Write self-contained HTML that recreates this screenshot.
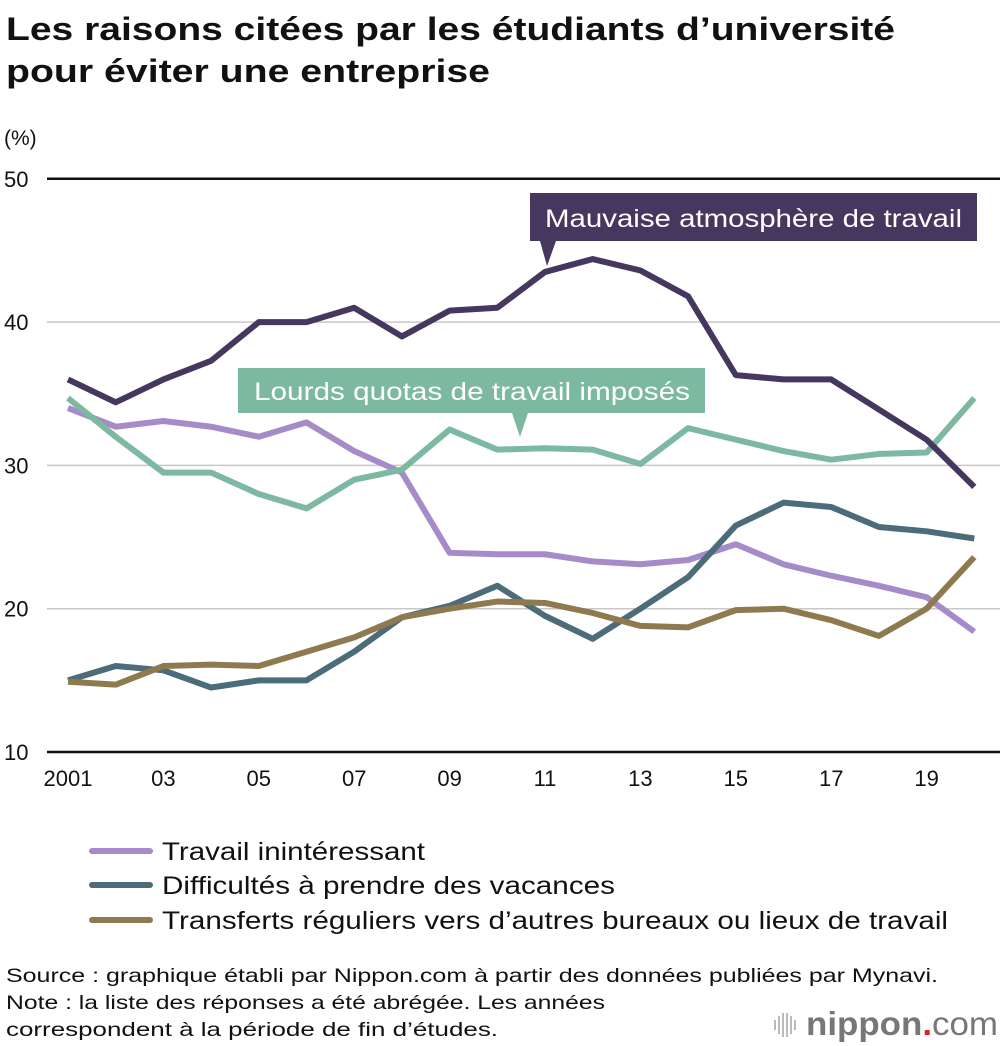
<!DOCTYPE html>
<html><head><meta charset="utf-8"><style>
body{margin:0;background:#fff;font-family:"Liberation Sans",sans-serif;}
svg{display:block}
</style></head><body>
<svg id="c" width="1000" height="1046" viewBox="0 0 1000 1046">
<text x="6" y="40" font-size="32" font-weight="bold" fill="#111" textLength="889" lengthAdjust="spacingAndGlyphs">Les raisons citées par les étudiants d’université</text>
<text x="6" y="82" font-size="32" font-weight="bold" fill="#111" textLength="484" lengthAdjust="spacingAndGlyphs">pour éviter une entreprise</text>
<text x="4" y="145" font-size="21" fill="#111">(%)</text>
<g id="grid"></g><g id="lines"></g>
<g>
<rect x="530" y="193" width="447" height="48" fill="#46375e"/><polygon points="540,241 556,241 547,266" fill="#46375e"/>
<text x="545" y="227" font-size="25" fill="#fff" textLength="417" lengthAdjust="spacingAndGlyphs">Mauvaise atmosphère de travail</text></g>
<g>
<rect x="238" y="368" width="467" height="45" fill="#7db8a0"/><polygon points="512,413 528,413 520,437" fill="#7db8a0"/>
<text x="254" y="400" font-size="25" fill="#fff" textLength="436" lengthAdjust="spacingAndGlyphs">Lourds quotas de travail imposés</text></g>
<g font-size="25" fill="#111">
<line x1="92" y1="851" x2="150" y2="851" stroke="#a58bc8" stroke-width="6" stroke-linecap="round"/>
<text x="162" y="860" textLength="263" lengthAdjust="spacingAndGlyphs">Travail inintéressant</text>
<line x1="92" y1="885" x2="150" y2="885" stroke="#4d6c7a" stroke-width="6" stroke-linecap="round"/>
<text x="162" y="894" textLength="453" lengthAdjust="spacingAndGlyphs">Difficultés à prendre des vacances</text>
<line x1="92" y1="920" x2="150" y2="920" stroke="#8e7a4e" stroke-width="6" stroke-linecap="round"/>
<text x="162" y="929" textLength="786" lengthAdjust="spacingAndGlyphs">Transferts réguliers vers d’autres bureaux ou lieux de travail</text>
</g>
<g font-size="19.5" fill="#111">
<text x="6" y="982" textLength="932" lengthAdjust="spacingAndGlyphs">Source : graphique établi par Nippon.com à partir des données publiées par Mynavi.</text>
<text x="6" y="1009" textLength="599" lengthAdjust="spacingAndGlyphs">Note : la liste des réponses a été abrégée. Les années</text>
<text x="6" y="1036" textLength="492" lengthAdjust="spacingAndGlyphs">correspondent à la période de fin d’études.</text></g>
<g>
<g stroke="#bbb" stroke-width="2"><line x1="775" y1="1020" x2="775" y2="1030"/><line x1="779" y1="1016" x2="779" y2="1034"/><line x1="783" y1="1013" x2="783" y2="1037"/><line x1="787" y1="1013" x2="787" y2="1037"/><line x1="791" y1="1016" x2="791" y2="1034"/><line x1="795" y1="1020" x2="795" y2="1030"/></g>
<text x="806" y="1035" font-size="33" font-weight="bold" fill="#777" textLength="192" lengthAdjust="spacingAndGlyphs">nippon<tspan fill="#e02020">.</tspan><tspan font-weight="normal">com</tspan></text></g>
</svg>
<script>
const years=[2001,2002,2003,2004,2005,2006,2007,2008,2009,2010,2011,2012,2013,2014,2015,2016,2017,2018,2019,2020];
const yTicks=[10,20,30,40,50];
const xTickLabels=["2001","03","05","07","09","11","13","15","17","19"];
const mauvaise=[36,34.4,36,37.3,40,40,41,39,40.8,41,43.5,44.4,43.6,41.8,36.3,36,36,33.9,31.8,28.5];
const lourds=[34.7,32,29.5,29.5,28,27,29,29.7,32.5,31.1,31.2,31.1,30.1,32.6,31.8,31,30.4,30.8,30.9,34.7];
const inint=[34,32.7,33.1,32.7,32,33,31,29.5,23.9,23.8,23.8,23.3,23.1,23.4,24.5,23.1,22.3,21.6,20.8,18.4];
const vacances=[15,16,15.7,14.5,15,15,17,19.4,20.2,21.6,19.5,17.9,20,22.2,25.8,27.4,27.1,25.7,25.4,24.9];
const transferts=[14.9,14.7,16,16.1,16,17,18,19.4,20,20.5,20.4,19.7,18.8,18.7,19.9,20,19.2,18.1,20,23.6];
const NS="http://www.w3.org/2000/svg";
const x=y=>68+(y-2001)*47.7;
const yv=v=>752-(v-10)*14.33;
const grid=document.getElementById('grid'),lines=document.getElementById('lines');
function mk(tag,attrs,parent){const e=document.createElementNS(NS,tag);for(const k in attrs)e.setAttribute(k,attrs[k]);parent.appendChild(e);return e;}
yTicks.forEach(t=>{
 const ln=mk('line',{x1:47,x2:1000,y1:yv(t),y2:yv(t),stroke:(t==10||t==50)?'#111':'#c8c8c8','stroke-width':(t==10||t==50)?2.5:1.5},grid);
 
 
 const tx=mk('text',{x:4,y:yv(t)+8,'font-size':22,fill:'#111'},grid);tx.textContent=t;
 
 
});
xTickLabels.forEach((l,i)=>{
 const tx=mk('text',{x:x(2001+2*i),y:786,'font-size':22,fill:'#111','text-anchor':'middle'},grid);tx.textContent=l;
 
 
});
[[inint,'#a58bc8','inint'],[vacances,'#4d6c7a','vacances'],[transferts,'#8e7a4e','transferts'],[lourds,'#7db8a0','lourds'],[mauvaise,'#46375e','mauvaise']].forEach(([d,c,n])=>{
 const p=mk('polyline',{points:d.map((v,i)=>x(years[i])+','+yv(v)).join(' '),fill:'none',stroke:c,'stroke-width':6,'stroke-linejoin':'round'},lines);
 
 
});
</script>
</body></html>
